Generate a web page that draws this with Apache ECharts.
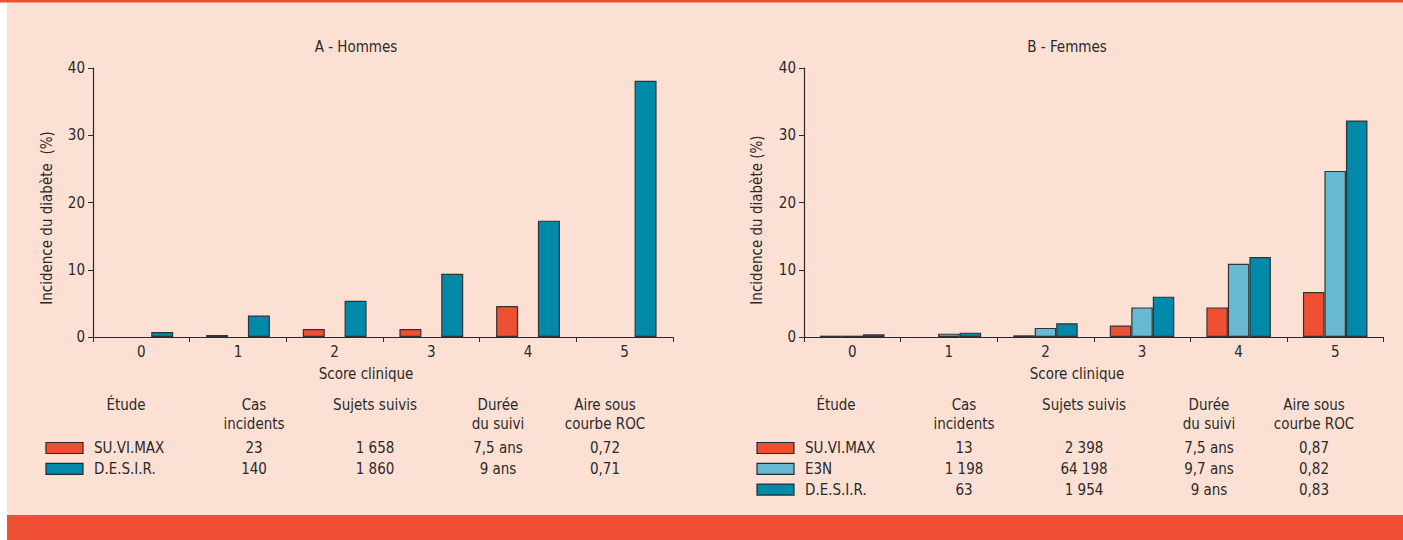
<!DOCTYPE html>
<html lang="fr">
<head>
    <meta charset="UTF-8">
    <title>Incidence du diabète selon le score clinique</title>
    <style>
        body {
            margin: 0;
            background-color: #ffffff;
        }
    </style>
</head>
<body>
<div id="demo" style="width: 1403px;height: 540px;"></div>
</body>
<script src="https://cdn.jsdelivr.net/npm/echarts@6/dist/echarts.min.js"></script>
<script>
    /*score clinique*/
    var categories = ['0', '1', '2', '3', '4', '5'];
    var yTicks = [0, 10, 20, 30, 40];
    /*A - Hommes, incidence (%)*/
    var hommesSuvimax = [0, 0.3, 1.2, 1.2, 4.6, 0];
    var hommesDesir = [0.75, 3.2, 5.4, 9.4, 17.3, 38.1];
    /*B - Femmes, incidence (%)*/
    var femmesSuvimax = [0.2, 0, 0.25, 1.7, 4.4, 6.7];
    var femmesE3n = [0.2, 0.5, 1.35, 4.4, 10.9, 24.7];
    var femmesDesir = [0.4, 0.65, 2.05, 6.0, 11.9, 32.2];
    /*tableaux sous les graphiques*/
    var tableHeaders = [['Étude'], ['Cas', 'incidents'], ['Sujets suivis'], ['Durée', 'du suivi'], ['Aire sous', 'courbe ROC']];
    var hommesRows = [
        ['SU.VI.MAX', '23', '1 658', '7,5 ans', '0,72'],
        ['D.E.S.I.R.', '140', '1 860', '9 ans', '0,71']
    ];
    var femmesRows = [
        ['SU.VI.MAX', '13', '2 398', '7,5 ans', '0,87'],
        ['E3N', '1 198', '64 198', '9,7 ans', '0,82'],
        ['D.E.S.I.R.', '63', '1 954', '9 ans', '0,83']
    ];

    var RED = '#ef5033', TEAL = '#0089a8', LIGHT = '#68b9d1', INK = '#2a2a2a';
    var FONT = '"Liberation Sans Narrow", "DejaVu Sans Condensed", sans-serif';

    var demo = echarts.init(document.getElementById('demo'), null, {renderer: 'svg'});

    function txt(s, x, y, opts) {
        opts = opts || {};
        return {
            type: 'text',
            x: x, y: y,
            rotation: opts.rotation || 0,
            silent: true,
            style: {
                text: s,
                align: opts.align || 'center',
                verticalAlign: 'middle',
                fontFamily: FONT,
                fontSize: opts.size || 15,
                fill: INK
            }
        };
    }

    function table(rows, colors, cols, swatchX, labelX) {
        var out = [];
        tableHeaders.forEach(function (h, i) {
            h.forEach(function (line, j) {
                out.push(txt(line, cols[i], 405 + j * 19));
            });
        });
        rows.forEach(function (r, k) {
            var y = 448 + k * 20.8;
            out.push({
                type: 'rect', silent: true,
                shape: {x: swatchX, y: y - 5.5, width: 37, height: 11},
                style: {fill: colors[k], stroke: INK, lineWidth: 1.2}
            });
            out.push(txt(r[0], labelX, y, {align: 'left'}));
            for (var c = 1; c < r.length; c++) {
                out.push(txt(r[c], cols[c], y));
            }
        });
        return out;
    }

    function xAxis(idx) {
        return {
            type: 'category',
            gridIndex: idx,
            data: categories,
            boundaryGap: true,
            axisLine: {lineStyle: {color: INK, width: 1.2}},
            axisTick: {show: true, inside: false, length: 5, lineStyle: {color: INK}},
            axisLabel: {color: INK, fontSize: 15, fontFamily: FONT, margin: 7}
        };
    }

    function yAxis(idx) {
        return {
            type: 'value',
            gridIndex: idx,
            min: yTicks[0],
            max: yTicks[yTicks.length - 1],
            interval: 10,
            axisLine: {show: true, lineStyle: {color: INK, width: 1.2}},
            axisTick: {show: true, inside: false, length: 5, lineStyle: {color: INK}},
            axisLabel: {color: INK, fontSize: 15, fontFamily: FONT, margin: 8},
            splitLine: {show: false}
        };
    }

    function bar(name, data, color, idx, width, gap) {
        return {
            name: name,
            type: 'bar',
            xAxisIndex: idx,
            yAxisIndex: idx,
            barWidth: width,
            barGap: gap,
            itemStyle: {color: color, borderColor: '#333', borderWidth: 1.2},
            silent: true,
            // pas de barre dessinée pour une incidence nulle
            data: data.map(function (v) { return v === 0 ? '-' : v; })
        };
    }

    var graphics = [
        {type: 'rect', silent: true, shape: {x: 0, y: 0, width: 1403, height: 540}, style: {fill: '#fde0d4'}, z: -10},
        {type: 'rect', silent: true, shape: {x: 0, y: 0, width: 7, height: 540}, style: {fill: '#ffffff'}, z: -9},
        {type: 'rect', silent: true, shape: {x: 0, y: 0, width: 1403, height: 2.5}, style: {fill: RED}, z: -8},
        {type: 'rect', silent: true, shape: {x: 7, y: 515, width: 1396, height: 25}, style: {fill: RED}, z: -8},
        txt('A - Hommes', 356, 47),
        txt('B - Femmes', 1067, 47),
        txt('Score clinique', 366, 374),
        txt('Score clinique', 1077, 374),
        txt('Incidence du diabète  (%)', 47, 218, {rotation: Math.PI / 2}),
        txt('Incidence du diabète (%)', 757, 220, {rotation: Math.PI / 2})
    ];
    graphics = graphics.concat(
        table(hommesRows, [RED, TEAL], [126, 254, 375, 498, 605], 46, 94),
        table(femmesRows, [RED, LIGHT, TEAL], [836, 964, 1084, 1209, 1314], 757, 805)
    );

    var option_demo = {
        animation: false,
        backgroundColor: '#fde0d4',
        grid: [
            {left: 93, right: 730, top: 68, bottom: 203},
            {left: 804, right: 19.5, top: 68, bottom: 203}
        ],
        xAxis: [xAxis(0), xAxis(1)],
        yAxis: [yAxis(0), yAxis(1)],
        series: [
            bar('SU.VI.MAX', hommesSuvimax, RED, 0, 22, '90%'),
            bar('D.E.S.I.R.', hommesDesir, TEAL, 0, 22, '90%'),
            bar('SU.VI.MAX', femmesSuvimax, RED, 1, 21.5, '0%'),
            bar('E3N', femmesE3n, LIGHT, 1, 21.5, '0%'),
            bar('D.E.S.I.R.', femmesDesir, TEAL, 1, 21.5, '0%')
        ],
        graphic: graphics
    };
    demo.setOption(option_demo);
</script>
</html>
